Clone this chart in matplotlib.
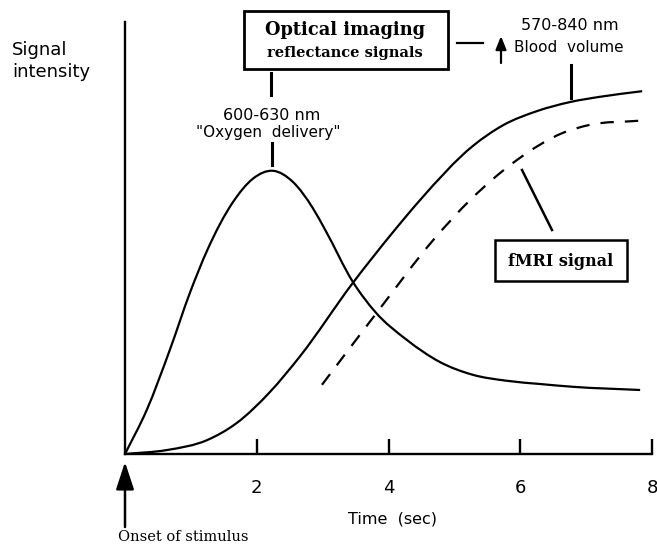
import numpy as np
import matplotlib
matplotlib.use("Agg")
import matplotlib.pyplot as plt
from matplotlib.patches import Rectangle, FancyArrowPatch, PathPatch
from matplotlib.path import Path

# ---------------- data ----------------
x_ticks = [2, 4, 6, 8]
x_tick_labels = ["2", "4", "6", "8"]

oxygen_t = [0.0, 0.33, 0.68, 0.99, 1.25, 1.64, 1.94, 2.25, 2.55, 2.85, 3.04,
            3.46, 3.80, 4.28, 4.78, 5.28, 5.80, 6.30, 6.80, 7.82]
oxygen_v = [0.0, 0.11, 0.26, 0.405, 0.51, 0.63, 0.688, 0.708, 0.68, 0.615, 0.56,
            0.43, 0.355, 0.285, 0.23, 0.198, 0.183, 0.175, 0.168, 0.16]

volume_t = [0.0, 0.64, 1.25, 1.70, 2.20, 2.66, 3.46, 4.07, 4.48, 5.28, 5.74,
            6.25, 6.76, 7.21, 7.85]
volume_v = [0.0, 0.01, 0.035, 0.078, 0.155, 0.245, 0.428, 0.555, 0.635, 0.77, 0.822,
            0.857, 0.88, 0.893, 0.907]

fmri_t = [2.99, 3.83, 4.68, 5.24, 5.95, 6.65, 7.06, 7.79]
fmri_v = [0.173, 0.355, 0.535, 0.635, 0.735, 0.803, 0.823, 0.833]

# ---------------- figure ----------------
W, H = 657, 545
fig = plt.figure(figsize=(W / 100, H / 100), dpi=100)

def fx(px):
    return px / W

def fy(py):
    return 1 - py / H

ax = fig.add_axes([fx(125), fy(454), (652 - 125) / W, (454 - 22) / H])
ax.set_xlim(0, 8)
ax.set_ylim(0, 1.08)
ax.patch.set_alpha(0)

for s in ["top", "right"]:
    ax.spines[s].set_visible(False)
for s in ["left", "bottom"]:
    ax.spines[s].set_linewidth(1.7)

ax.set_yticks([])
ax.set_xticks(x_ticks)
ax.set_xticklabels(x_tick_labels, fontsize=13, fontfamily="DejaVu Sans")
ax.tick_params(axis="x", direction="in", length=11, width=1.7, pad=18)


def smooth_path(xs, ys):
    """Cubic Hermite curve through the points (finite-difference tangents),
    written as Bezier segments so the library draws it."""
    x = np.asarray(xs, float)
    y = np.asarray(ys, float)
    n = len(x)
    h = np.diff(x)
    d = np.diff(y) / h
    m = np.empty(n)
    m[0] = d[0]
    m[-1] = d[-1]
    for i in range(1, n - 1):
        m[i] = (d[i] * h[i - 1] + d[i - 1] * h[i]) / (h[i - 1] + h[i])
    verts = [(x[0], y[0])]
    codes = [Path.MOVETO]
    for i in range(n - 1):
        verts += [(x[i] + h[i] / 3, y[i] + m[i] * h[i] / 3),
                  (x[i + 1] - h[i] / 3, y[i + 1] - m[i + 1] * h[i] / 3),
                  (x[i + 1], y[i + 1])]
        codes += [Path.CURVE4] * 3
    return Path(verts, codes)


lw = 1.6
for xs, ys, ls in [(oxygen_t, oxygen_v, "-"), (volume_t, volume_v, "-"),
                   (fmri_t, fmri_v, (0, (6, 5)))]:
    ax.add_patch(PathPatch(smooth_path(xs, ys), fill=False, ec="black", lw=lw,
                           linestyle=ls, capstyle="butt"))

sans = "DejaVu Sans"
serif = "DejaVu Serif"

def ftext(px, py, s, **kw):
    fig.text(fx(px), fy(py), s, **kw)

def fline(x0, y0, x1, y1, lw=1.8):
    fig.add_artist(plt.Line2D([fx(x0), fx(x1)], [fy(y0), fy(y1)], color="black",
                              lw=lw, transform=fig.transFigure))

# Y label
ftext(12, 50, "Signal", fontsize=13, family=sans, va="center", ha="left")
ftext(12, 72, "intensity", fontsize=13, family=sans, va="center", ha="left")

# Optical imaging box
fig.add_artist(Rectangle((fx(244), fy(69)), fx(448) - fx(244), fy(11) - fy(69),
                         transform=fig.transFigure, fill=False, lw=2.0, ec="black"))
ftext(345, 30, "Optical imaging", fontsize=12.8, family=serif, weight="bold",
      ha="center", va="center")
ftext(345, 53, "reflectance signals", fontsize=10.5, family=serif, weight="bold",
      ha="center", va="center")
fline(271, 73, 271, 95, lw=2.2)

# Oxygen delivery label
ftext(272, 115, "600-630 nm", fontsize=11.5, family=sans, ha="center", va="center")
ftext(268, 132, "\"Oxygen  delivery\"", fontsize=11, family=sans, ha="center", va="center")
fline(272, 143, 272, 165, lw=2.2)

# Blood volume label
fline(457, 43, 483, 43, lw=1.6)
fig.add_artist(FancyArrowPatch((fx(501), fy(63)), (fx(501), fy(36)),
                               transform=fig.transFigure,
                               arrowstyle="-|>,head_length=0.4,head_width=0.16",
                               mutation_scale=20, color="black", lw=1.6,
                               shrinkA=0, shrinkB=0))
ftext(570, 25, "570-840 nm", fontsize=11.5, family=sans, ha="center", va="center")
ftext(569, 48, "Blood  volume", fontsize=11, family=sans, ha="center", va="center")
fline(571, 65, 571, 98, lw=2.2)

# fMRI label
fline(522, 170, 552, 230, lw=1.8)
fig.add_artist(Rectangle((fx(495), fy(281)), fx(627) - fx(495), fy(240) - fy(281),
                         transform=fig.transFigure, fill=False, lw=1.8, ec="black"))
ftext(561, 261, "fMRI signal", fontsize=11.5, family=serif, weight="bold",
      ha="center", va="center")

# Onset arrow
fig.add_artist(FancyArrowPatch((fx(125), fy(527)), (fx(125), fy(462)),
                               transform=fig.transFigure,
                               arrowstyle="-|>,head_length=0.7,head_width=0.23",
                               mutation_scale=24, color="black", lw=1.8,
                               shrinkA=0, shrinkB=0))
ftext(183, 537, "Onset of stimulus", fontsize=10.5, family=serif,
      ha="center", va="center")

# X label
ftext(392, 519, "Time  (sec)", fontsize=11.5, family=sans, ha="center", va="center")

fig.savefig("out.png", dpi=100)
